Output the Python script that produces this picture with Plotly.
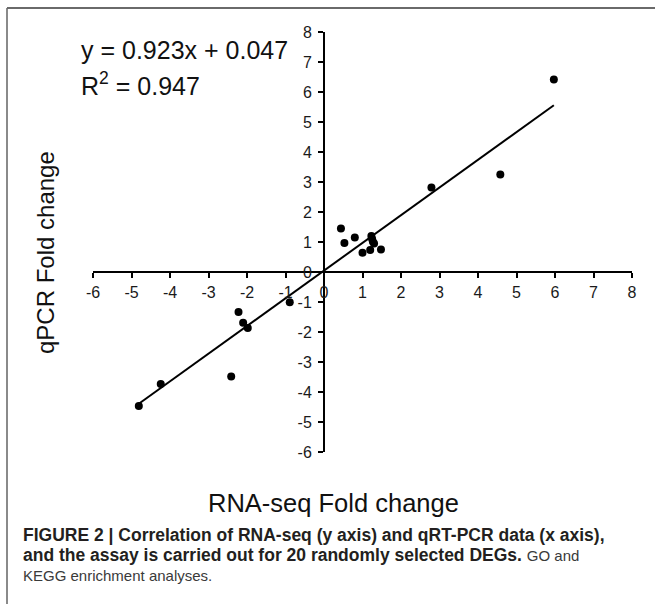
import plotly.graph_objects as go

# ---- data ----
rna_seq = [5.97, 4.58, 2.79, 0.44, 0.53, 0.80, 1.23, 1.27, 1.25, 1.30, 1.00, 1.20, 1.48,
           -0.89, -2.22, -2.10, -1.98, -2.41, -4.24, -4.81]
qpcr = [6.42, 3.25, 2.82, 1.45, 0.97, 1.15, 1.20, 1.01, 1.10, 0.95, 0.64, 0.73, 0.75,
        -1.01, -1.33, -1.69, -1.87, -3.48, -3.73, -4.47]
slope = 0.923
intercept = 0.047
r_squared = 0.947
axis_min, axis_max = -6, 8
tick_vals = list(range(axis_min, axis_max + 1))
tick_text = [str(v) for v in tick_vals]

W, H = 655, 604
ML, MR, MT, MB = 93, 23, 32, 152
PW, PH = W - ML - MR, H - MT - MB


def px(xp):
    return (xp - ML) / PW


def py(yp):
    return (H - MB - yp) / PH


FONT = "Liberation Sans, Arial, sans-serif"

fit_x = [min(rna_seq), max(rna_seq)]
fit_y = [slope * v + intercept for v in fit_x]

fig = go.Figure()
fig.add_trace(go.Scatter(x=fit_x, y=fit_y, mode="lines",
                         line=dict(color="black", width=2), hoverinfo="skip"))
fig.add_trace(go.Scatter(x=rna_seq, y=qpcr, mode="markers",
                         marker=dict(color="black", size=8)))

zero_frac = (0 - axis_min) / (axis_max - axis_min)
axis_common = dict(range=[axis_min, axis_max], tickvals=tick_vals, ticktext=tick_text,
                   ticks="outside", ticklen=5, tickwidth=2, tickcolor="black",
                   showline=True, linewidth=2, linecolor="black", showgrid=False,
                   zeroline=False, tickfont=dict(family=FONT, size=16, color="#1a1a1a"),
                   anchor="free", position=zero_frac)
fig.update_xaxes(**axis_common, ticklabelstandoff=1)
fig.update_yaxes(**axis_common, ticklabelstandoff=3)

annotations = [
    dict(text=f"y = {slope:.3f}x + {intercept:.3f}",
         x=px(79), y=py(50), xanchor="left", yanchor="middle",
         font=dict(family=FONT, size=25, color="#111")),
    dict(text=f"R<sup>2</sup> = {r_squared:.3f}", x=px(79), y=py(84),
         xanchor="left", yanchor="middle", font=dict(family=FONT, size=25, color="#111")),
    dict(text="qPCR Fold change", x=px(45), y=py(253), textangle=-90,
         xanchor="center", yanchor="middle", font=dict(family=FONT, size=24, color="#111")),
    dict(text="RNA-seq Fold change", x=px(333), y=py(503),
         xanchor="center", yanchor="middle", font=dict(family=FONT, size=25.5, color="#111")),
    dict(text="<b>FIGURE 2 | Correlation of RNA-seq (y axis) and qRT-PCR data (x axis),</b>",
         x=px(21), y=py(535), xanchor="left", yanchor="middle",
         font=dict(family=FONT, size=17.5, color="#231f20")),
    dict(text="<b>and the assay is carried out for 20 randomly selected DEGs.</b> "
              "<span style='font-size:15px;color:#3a3a3a'>GO and</span>",
         x=px(21), y=py(555), xanchor="left", yanchor="middle",
         font=dict(family=FONT, size=17.5, color="#231f20")),
    dict(text="KEGG enrichment analyses.",
         x=px(21), y=py(575), xanchor="left", yanchor="middle",
         font=dict(family=FONT, size=15, color="#3a3a3a")),
]
for a in annotations:
    a.update(xref="paper", yref="paper", showarrow=False)

shapes = [
    dict(type="line", xref="paper", yref="paper", x0=px(7), x1=px(7), y0=py(8), y1=py(H),
         line=dict(color="#8a8a8a", width=2)),
    dict(type="line", xref="paper", yref="paper", x0=px(7), x1=px(W), y0=py(8), y1=py(8),
         line=dict(color="#6a6a6a", width=2)),
]

fig.update_layout(width=W, height=H, autosize=False,
                  margin=dict(l=ML, r=MR, t=MT, b=MB),
                  paper_bgcolor="white", plot_bgcolor="white",
                  showlegend=False, annotations=annotations, shapes=shapes,
                  font=dict(family=FONT))

fig.write_html("out.html", config={"displayModeBar": False},
               post_script="document.body.style.margin='0';")
